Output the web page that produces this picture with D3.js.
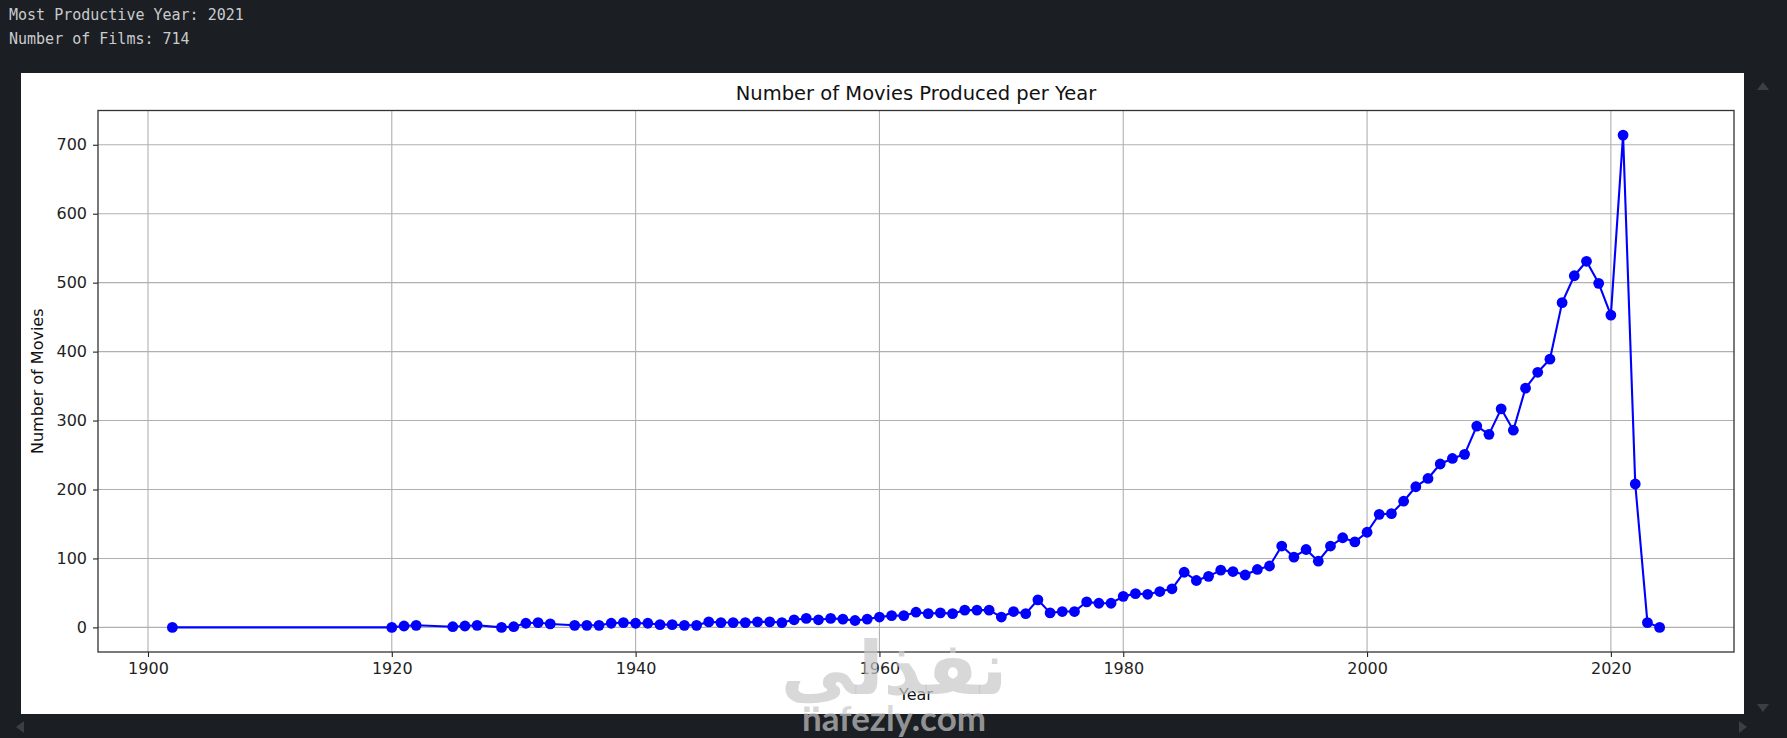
<!DOCTYPE html>
<html>
<head>
<meta charset="utf-8">
<script src="https://cdn.jsdelivr.net/npm/d3@7"></script>
<style>
    body { margin: 0; background: #1b1e22; overflow: hidden; }
    svg { display: block; }
</style>
</head>
<body>
<div id="content"></div>
<script>
// films per year
const years = [1902, 1920, 1921, 1922, 1925, 1926, 1927, 1929, 1930, 1931, 1932, 1933,
    1935, 1936, 1937, 1938, 1939, 1940, 1941, 1942, 1943, 1944, 1945, 1946, 1947, 1948, 1949,
    1950, 1951, 1952, 1953, 1954, 1955, 1956, 1957, 1958, 1959, 1960, 1961, 1962, 1963, 1964,
    1965, 1966, 1967, 1968, 1969, 1970, 1971, 1972, 1973, 1974, 1975, 1976, 1977, 1978, 1979,
    1980, 1981, 1982, 1983, 1984, 1985, 1986, 1987, 1988, 1989, 1990, 1991, 1992, 1993, 1994,
    1995, 1996, 1997, 1998, 1999, 2000, 2001, 2002, 2003, 2004, 2005, 2006, 2007, 2008, 2009,
    2010, 2011, 2012, 2013, 2014, 2015, 2016, 2017, 2018, 2019, 2020, 2021, 2022, 2023, 2024];
const counts = [0, 0, 2, 3, 1, 2, 3, 0, 1, 6, 7, 5,
    3, 3, 3, 6, 7, 6, 6, 4, 4, 3, 3, 8, 7, 7, 7,
    8, 8, 7, 11, 13, 11, 13, 12, 10, 12, 15, 17, 17, 22, 20,
    21, 20, 25, 25, 25, 15, 23, 20, 40, 21, 23, 23, 37, 35, 35,
    45, 49, 48, 52, 56, 80, 68, 74, 83, 81, 76, 84, 89, 118, 102,
    113, 96, 118, 130, 124, 138, 164, 165, 183, 204, 216, 237, 245, 251, 292,
    280, 317, 286, 347, 370, 389, 471, 510, 531, 499, 453, 714, 208, 7, 0];
const xTicks = [1900, 1920, 1940, 1960, 1980, 2000, 2020];
const yTicks = [0, 100, 200, 300, 400, 500, 600, 700];

const data = years.map((y, i) => ({year: y, n: counts[i]}));

const W = 1787, H = 738;
const plot = {left: 98, right: 1734, top: 110.5, bottom: 652};

const svg = d3.select("#content")
    .append("svg")
    .attr("width", W)
    .attr("height", H);

// notebook output text
const best = data[d3.maxIndex(data, d => d.n)];
const out = svg.append("g")
    .attr("font-family", "DejaVu Sans Mono, monospace")
    .attr("font-size", 15)
    .attr("fill", "#c9cbce");
out.append("text").attr("x", 9).attr("y", 20).text("Most Productive Year: " + best.year);
out.append("text").attr("x", 9).attr("y", 44).text("Number of Films: " + best.n);

// white figure panel
svg.append("rect")
    .attr("x", 21)
    .attr("y", 73)
    .attr("width", 1723)
    .attr("height", 641)
    .attr("fill", "white");

// margins like matplotlib autoscale (5%)
const xExt = d3.extent(years), yExt = d3.extent(counts);
const xPad = (xExt[1] - xExt[0]) * 0.05, yPad = (yExt[1] - yExt[0]) * 0.05;

const x = d3.scaleLinear()
    .domain([xExt[0] - xPad, xExt[1] + xPad])
    .range([plot.left, plot.right]);
const y = d3.scaleLinear()
    .domain([yExt[0] - yPad, yExt[1] + yPad])
    .range([plot.bottom, plot.top]);

//grid
const grid = svg.append("g")
    .attr("stroke", "#b0b0b0")
    .attr("stroke-width", 1.1);
grid.selectAll(".gx")
    .data(xTicks)
    .join("line")
    .attr("x1", d => x(d)).attr("x2", d => x(d))
    .attr("y1", plot.top).attr("y2", plot.bottom);
grid.selectAll(".gy")
    .data(yTicks)
    .join("line")
    .attr("y1", d => y(d)).attr("y2", d => y(d))
    .attr("x1", plot.left).attr("x2", plot.right);

// axes
const xAxis = svg.append("g")
    .attr("transform", `translate(0,${plot.bottom})`)
    .call(d3.axisBottom(x).tickValues(xTicks).tickFormat(d3.format("d")).tickSize(5).tickPadding(6));
const yAxis = svg.append("g")
    .attr("transform", `translate(${plot.left},0)`)
    .call(d3.axisLeft(y).tickValues(yTicks).tickSize(5).tickPadding(6));

[xAxis, yAxis].forEach(a => {
    a.select(".domain").remove();
    a.selectAll("line").attr("stroke", "#222").attr("stroke-width", 1.1);
    a.selectAll("text")
        .attr("font-family", "DejaVu Sans")
        .attr("font-size", 16)
        .attr("fill", "#1f1f1f");
});

// line + markers
const line = d3.line()
    .x(d => x(d.year))
    .y(d => y(d.n));

svg.append("path")
    .datum(data)
    .attr("fill", "none")
    .attr("stroke", "#0000ff")
    .attr("stroke-width", 2.1)
    .attr("stroke-linejoin", "round")
    .attr("d", line);

svg.append("g")
    .selectAll("circle")
    .data(data)
    .join("circle")
    .attr("cx", d => x(d.year))
    .attr("cy", d => y(d.n))
    .attr("r", 5.4)
    .attr("fill", "#0000ff");

// frame
svg.append("rect")
    .attr("x", plot.left)
    .attr("y", plot.top)
    .attr("width", plot.right - plot.left)
    .attr("height", plot.bottom - plot.top)
    .attr("fill", "none")
    .attr("stroke", "#333")
    .attr("stroke-width", 1.3);

// labels
const labels = svg.append("g")
    .attr("font-family", "DejaVu Sans")
    .attr("fill", "#111");
labels.append("text")
    .attr("x", (plot.left + plot.right) / 2)
    .attr("y", 100)
    .attr("text-anchor", "middle")
    .attr("font-size", 19.5)
    .text("Number of Movies Produced per Year");
labels.append("text")
    .attr("x", (plot.left + plot.right) / 2)
    .attr("y", 700)
    .attr("text-anchor", "middle")
    .attr("font-size", 16)
    .text("Year");
labels.append("text")
    .attr("transform", `translate(43,${(plot.top + plot.bottom) / 2}) rotate(-90)`)
    .attr("text-anchor", "middle")
    .attr("font-size", 16)
    .text("Number of Movies");

// scroll arrows
const arrows = svg.append("g").attr("fill", "#3b3f47");
arrows.append("path").attr("d", "M1757,90 L1769,90 L1763,82 Z");
arrows.append("path").attr("d", "M1757,704 L1769,704 L1763,712 Z");
arrows.append("path").attr("d", "M24,721 L24,733 L16,727 Z");
arrows.append("path").attr("d", "M1739,721 L1739,733 L1747,727 Z");

// watermark
const wm = svg.append("g")
    .attr("fill", "#c8c8c8")
    .attr("fill-opacity", 0.7)
    .attr("text-anchor", "middle")
    .attr("font-weight", "bold");
wm.append("text")
    .attr("x", 894)
    .attr("y", 694)
    .attr("font-family", "DejaVu Sans")
    .attr("font-size", 74)
    .text("نفذلي");
wm.append("text")
    .attr("x", 894)
    .attr("y", 731)
    .attr("font-family", "Lato")
    .attr("font-size", 35)
    .text("nafezly.com");
</script>
</body>
</html>
